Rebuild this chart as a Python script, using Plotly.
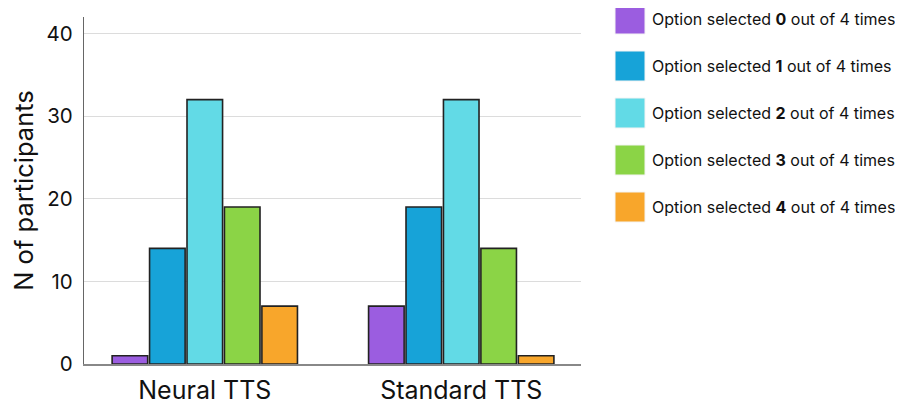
import plotly.graph_objects as go

categories = ["Neural TTS", "Standard TTS"]
series_labels = ["0", "1", "2", "3", "4"]
series_names = [f"Option selected <b>{k}</b> out of 4 times" for k in series_labels]
series_values = [
    [1, 7],
    [14, 19],
    [32, 32],
    [19, 14],
    [7, 1],
]
colors = ["#9B5DE0", "#17A3D8", "#62DAE6", "#8BD446", "#F8A62B"]
y_ticks = [0, 10, 20, 30, 40]

OFF = 8  # page body margin
W, H = 903, 406 - OFF
ML, MR, MT, MB = 84 - OFF, 322 + OFF, 17 - OFF, 42
PW, PH = W - ML - MR, H - MT - MB

fig = go.Figure()
for name, vals, col in zip(series_names, series_values, colors):
    fig.add_trace(go.Bar(
        x=categories, y=vals, name=name,
        marker=dict(color=col, line=dict(color="#222222", width=1.6)),
        showlegend=False,
    ))

# custom legend with large swatches (page coords)
sw, step, top0 = 30, 47, 4
for i, (name, col) in enumerate(zip(series_names, colors)):
    y0 = top0 + i * step - OFF
    fig.add_shape(type="rect", xref="paper", yref="paper",
                  x0=(615 - OFF - ML) / PW, x1=(645 - OFF - ML) / PW,
                  y0=1 - (y0 + sw - MT) / PH, y1=1 - (y0 - MT) / PH,
                  fillcolor=col, line=dict(color="#f4f4f4", width=1))
    fig.add_annotation(xref="paper", yref="paper",
                       x=(650 - OFF - ML) / PW,
                       y=1 - (y0 + sw / 2 - MT) / PH,
                       text=name, showarrow=False, xanchor="left", yanchor="middle",
                       font=dict(family="Inter", size=16, color="#111111"))

fig.update_layout(
    width=W, height=H,
    margin=dict(l=ML, r=MR, t=MT, b=MB, autoexpand=False),
    paper_bgcolor="white", plot_bgcolor="white",
    barmode="group", bargap=0.27, bargroupgap=0.05,
    font=dict(family="Inter", color="#111111"),
)
fig.update_xaxes(
    range=[-0.471, 1.467], automargin=False,
    showline=True, linecolor="#888888", linewidth=1.5,
    ticks="", tickfont=dict(size=25, color="#111111"), ticklabelstandoff=3,
    showgrid=False,
)
fig.update_yaxes(
    range=[0, 42], tickvals=y_ticks, automargin=False,
    showline=True, linecolor="#666666", linewidth=1.2,
    showgrid=True, gridcolor="#dcdcdc", gridwidth=1.2,
    zeroline=False,
    ticks="", tickfont=dict(size=20.5, color="#111111"), ticklabelstandoff=6,
    title=dict(text="N of participants", font=dict(size=25.5, color="#111111"), standoff=10),
)

fig.write_html("out.html")
